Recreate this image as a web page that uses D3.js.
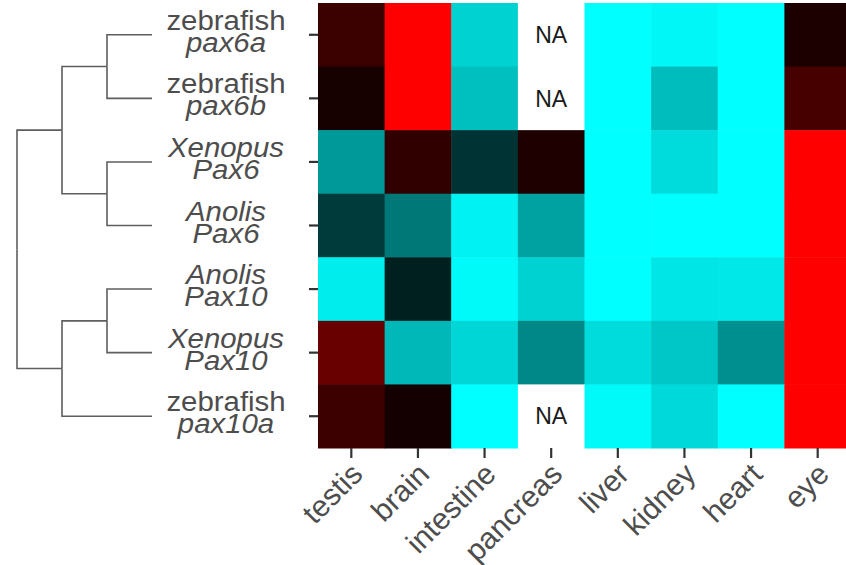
<!DOCTYPE html>
<html>
<head>
<meta charset="utf-8">
<script src="https://cdn.jsdelivr.net/npm/d3@7"></script>
<style>
  html, body { margin: 0; padding: 0; background: #fff; }
  svg { display: block; font-family: 'Liberation Sans', Arial, sans-serif; }
</style>
</head>
<body>
<script>
// columns and rows
const tissues = ['testis', 'brain', 'intestine', 'pancreas', 'liver', 'kidney', 'heart', 'eye'];
const genes = ['zebrafish pax6a', 'zebrafish pax6b', 'Xenopus Pax6', 'Anolis Pax6',
               'Anolis Pax10', 'Xenopus Pax10', 'zebrafish pax10a'];
const species = ['zebrafish', 'zebrafish', 'Xenopus', 'Anolis', 'Anolis', 'Xenopus', 'zebrafish'];
const geneNames = ['pax6a', 'pax6b', 'Pax6', 'Pax6', 'Pax10', 'Pax10', 'pax10a'];

// relative expression, -1 = low (cyan), 0 = mid (black), 1 = high (red); null = NA
const zfPax6a  = [0.23, 1, -0.82, null, -1, -0.97, -1, 0.11];
const zfPax6b  = [0.09, 1, -0.75, null, -1, -0.74, -1, 0.28];
const xtPax6   = [-0.6, 0.19, -0.2, 0.12, -1, -0.86, -1, 1];
const acPax6   = [-0.23, -0.47, -0.95, -0.63, -1, -1, -1, 1];
const acPax10  = [-0.93, -0.12, -0.98, -0.82, -1, -0.9, -0.91, 1];
const xtPax10  = [0.41, -0.72, -0.84, -0.53, -0.86, -0.78, -0.56, 1];
const zfPax10a = [0.24, 0.08, -1, null, -0.98, -0.85, -1, 1];
const rows = [zfPax6a, zfPax6b, xtPax6, acPax6, acPax10, xtPax10, zfPax10a];

// clustering of the rows
const tree = {children: [
  {children: [
    {children: [{name: genes[0]}, {name: genes[1]}]},
    {children: [{name: genes[2]}, {name: genes[3]}]}
  ]},
  {children: [
    {children: [{name: genes[4]}, {name: genes[5]}]},
    {name: genes[6]}
  ]}
]};

const width = 846, height = 565;

const svg = d3.select('body').append('svg')
  .attr('width', width)
  .attr('height', height);

const xScale = d3.scaleBand().domain(tissues).range([318, 851]);
const yScale = d3.scaleBand().domain(genes).range([3, 448]);
const color = d3.scaleLinear()
  .domain([-1, 0, 1])
  .range(['#00ffff', '#000000', '#ff0000']);

const cells = [];
rows.forEach((r, i) => r.forEach((v, j) => cells.push({gene: genes[i], tissue: tissues[j], v})));

svg.append('g')
  .selectAll('rect')
  .data(cells)
  .join('rect')
  .attr('x', d => xScale(d.tissue))
  .attr('y', d => yScale(d.gene))
  .attr('width', xScale.bandwidth() + 0.5)
  .attr('height', yScale.bandwidth() + 0.5)
  .attr('fill', d => d.v === null ? '#ffffff' : color(d.v));

svg.append('g')
  .selectAll('text')
  .data(cells.filter(d => d.v === null))
  .join('text')
  .attr('x', d => xScale(d.tissue) + xScale.bandwidth() / 2)
  .attr('y', d => yScale(d.gene) + yScale.bandwidth() / 2)
  .attr('text-anchor', 'middle')
  .attr('dy', '0.36em')
  .attr('font-size', 23)
  .attr('fill', '#1a1a1a')
  .text('NA');

// axes
const yAxis = svg.append('g')
  .attr('transform', `translate(${xScale.range()[0]},0)`)
  .call(d3.axisLeft(yScale).tickSize(9).tickFormat(''));
yAxis.select('.domain').remove();
yAxis.selectAll('line').attr('stroke', '#333').attr('stroke-width', 2.2);

const xAxis = svg.append('g')
  .attr('transform', `translate(0,${yScale.range()[1]})`)
  .call(d3.axisBottom(xScale).tickSize(10).tickFormat(''));
xAxis.select('.domain').remove();
xAxis.selectAll('line').attr('stroke', '#333').attr('stroke-width', 2.2);

svg.append('g')
  .selectAll('text')
  .data(tissues)
  .join('text')
  .attr('transform', d => `translate(${xScale(d) + xScale.bandwidth() / 2 + 13},${yScale.range()[1] + 28}) rotate(-45)`)
  .attr('text-anchor', 'end')
  .attr('font-size', 30)
  .attr('fill', '#4d4d4d')
  .text(d => d);

// row labels, two lines each
const labels = svg.append('g')
  .selectAll('g')
  .data(genes)
  .join('g')
  .attr('transform', (d, i) => `translate(226,${yScale(d) + yScale.bandwidth() / 2}) scale(1.05,1)`);

labels.append('text')
  .attr('y', -5)
  .attr('text-anchor', 'middle')
  .attr('font-size', 28)
  .attr('fill', '#4d4d4d')
  .attr('font-style', (d, i) => species[i] === 'zebrafish' ? 'normal' : 'italic')
  .text((d, i) => species[i]);

labels.append('text')
  .attr('y', 17)
  .attr('text-anchor', 'middle')
  .attr('font-size', 28)
  .attr('fill', '#4d4d4d')
  .attr('font-style', 'italic')
  .text((d, i) => geneNames[i]);

// dendrogram
const root = d3.hierarchy(tree);
const maxDepth = root.height;
const dendX = d3.scaleLinear().domain([0, maxDepth]).range([17, 152]);
root.eachAfter(n => {
  if (!n.children) {
    n.py = yScale(n.data.name) + yScale.bandwidth() / 2;
    n.px = dendX(maxDepth);
  } else {
    n.py = d3.mean(n.children, c => c.py);
    n.px = dendX(n.depth);
  }
});

svg.append('g')
  .attr('fill', 'none')
  .attr('stroke', '#5e5e5e')
  .attr('stroke-width', 1.6)
  .selectAll('path')
  .data(root.links())
  .join('path')
  .attr('d', l => `M${l.source.px},${l.source.py}V${l.target.py}H${l.target.px}`);
</script>
</body>
</html>
